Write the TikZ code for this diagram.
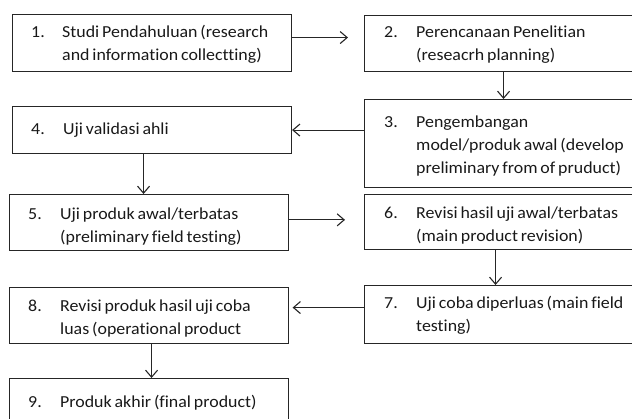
\documentclass[tikz,border=0pt]{standalone}
\usepackage{fontspec}
\setmainfont{Carlito}[FakeStretch=1.065, WordSpace=0.72, Ligatures=NoCommon]
\usetikzlibrary{arrows.meta}
\tikzset{
  box/.style={draw=black!85, line width=1.1pt, rectangle, inner sep=0pt, anchor=north west},
  lbl/.style={anchor=base west, inner sep=0pt, text=black!90, font=\fontsize{16.8}{23.2}\selectfont},
  arr/.style={draw=black!85, line width=1.1pt, -{Straight Barb[length=7pt,width=12pt]}}
}
\newcommand{\stepL}[3]{\begin{tabular}[t]{@{}p{#1}@{}l@{}}#2 & #3\end{tabular}}
\begin{document}
\begin{tikzpicture}[x=1pt,y=-1pt]
\useasboundingbox (0,0) rectangle (632,418);
\clip (0,0) rectangle (632,418);
\fill[white] (0,0) rectangle (632,418);
% boxes
\node[box, minimum width=279pt, minimum height=57pt] (b1) at (12,14) {};
\node[box, minimum width=280pt, minimum height=56pt] (b2) at (364,15) {};
\node[box, minimum width=280pt, minimum height=88pt] (b3) at (364,99) {};
\node[box, minimum width=279pt, minimum height=47pt] (b4) at (12,106) {};
\node[box, minimum width=279pt, minimum height=56pt] (b5) at (9,194) {};
\node[box, minimum width=280pt, minimum height=55pt] (b6) at (364,194) {};
\node[box, minimum width=280pt, minimum height=58pt] (b7) at (364,285) {};
\node[box, minimum width=279pt, minimum height=56pt] (b8) at (9,287) {};
\node[box, minimum width=279pt, minimum height=50pt] (b9) at (9,378) {};
% texts
\node[lbl] (t1) at (31,37) {\stepL{31pt}{1.}{Studi Pendahuluan (research\\ & and information collectting)}};
\node[lbl] (t2) at (384,37) {\stepL{32pt}{2.}{Perencanaan Penelitian\\ & (reseacrh planning)}};
\node[lbl] (t3) at (384,127) {\stepL{32pt}{3.}{Pengembangan\\ & model/produk awal (develop\\ & preliminary from of pruduct)}};
\node[lbl] (t4) at (31,134) {\stepL{32pt}{4.}{Uji validasi ahli}};
\node[lbl] (t5) at (28,219) {\stepL{32pt}{5.}{Uji produk awal/terbatas\\ & (preliminary field testing)}};
\node[lbl] (t6) at (384,218) {\stepL{32pt}{6.}{Revisi hasil uji awal/terbatas\\ & (main product revision)}};
\node[lbl] (t7) at (384,308) {\stepL{32pt}{7.}{Uji coba diperluas (main field\\ & testing)}};
\node[lbl] (t8) at (28,311) {\stepL{32pt}{8.}{Revisi produk hasil uji coba\\ & luas (operational product}};
\node[lbl] (t9) at (28,407) {\stepL{32pt}{9.}{Produk akhir (final product)}};
% connectors
\coordinate (a12) at ([yshift=5.5pt]b1.east);
\draw[arr, shorten >=16pt] (a12) -- (b2.west |- a12);
\draw[arr] ([xshift=-1pt]b2.south) -- ([xshift=-1pt]b2.south |- b3.north);
\draw[arr] (b3.west |- b4.east) -- (b4.east);
\draw[arr] ([xshift=-8.5pt]b4.south) -- ([xshift=-8.5pt]b4.south |- b5.north);
\coordinate (a56) at ([yshift=2.7pt]b5.east);
\draw[arr, shorten >=19pt] (a56) -- (b6.west |- a56);
\draw[arr] ([xshift=-9pt]b6.south) -- ([xshift=-9pt]b6.south |- b7.north);
\coordinate (a78) at ([yshift=7pt]b7.west);
\draw[arr, shorten >=3.5pt] (a78) -- (b8.east |- a78);
\draw[arr] ([xshift=2.5pt]b8.south) -- ([xshift=2.5pt]b8.south |- b9.north);
\end{tikzpicture}
\end{document}
